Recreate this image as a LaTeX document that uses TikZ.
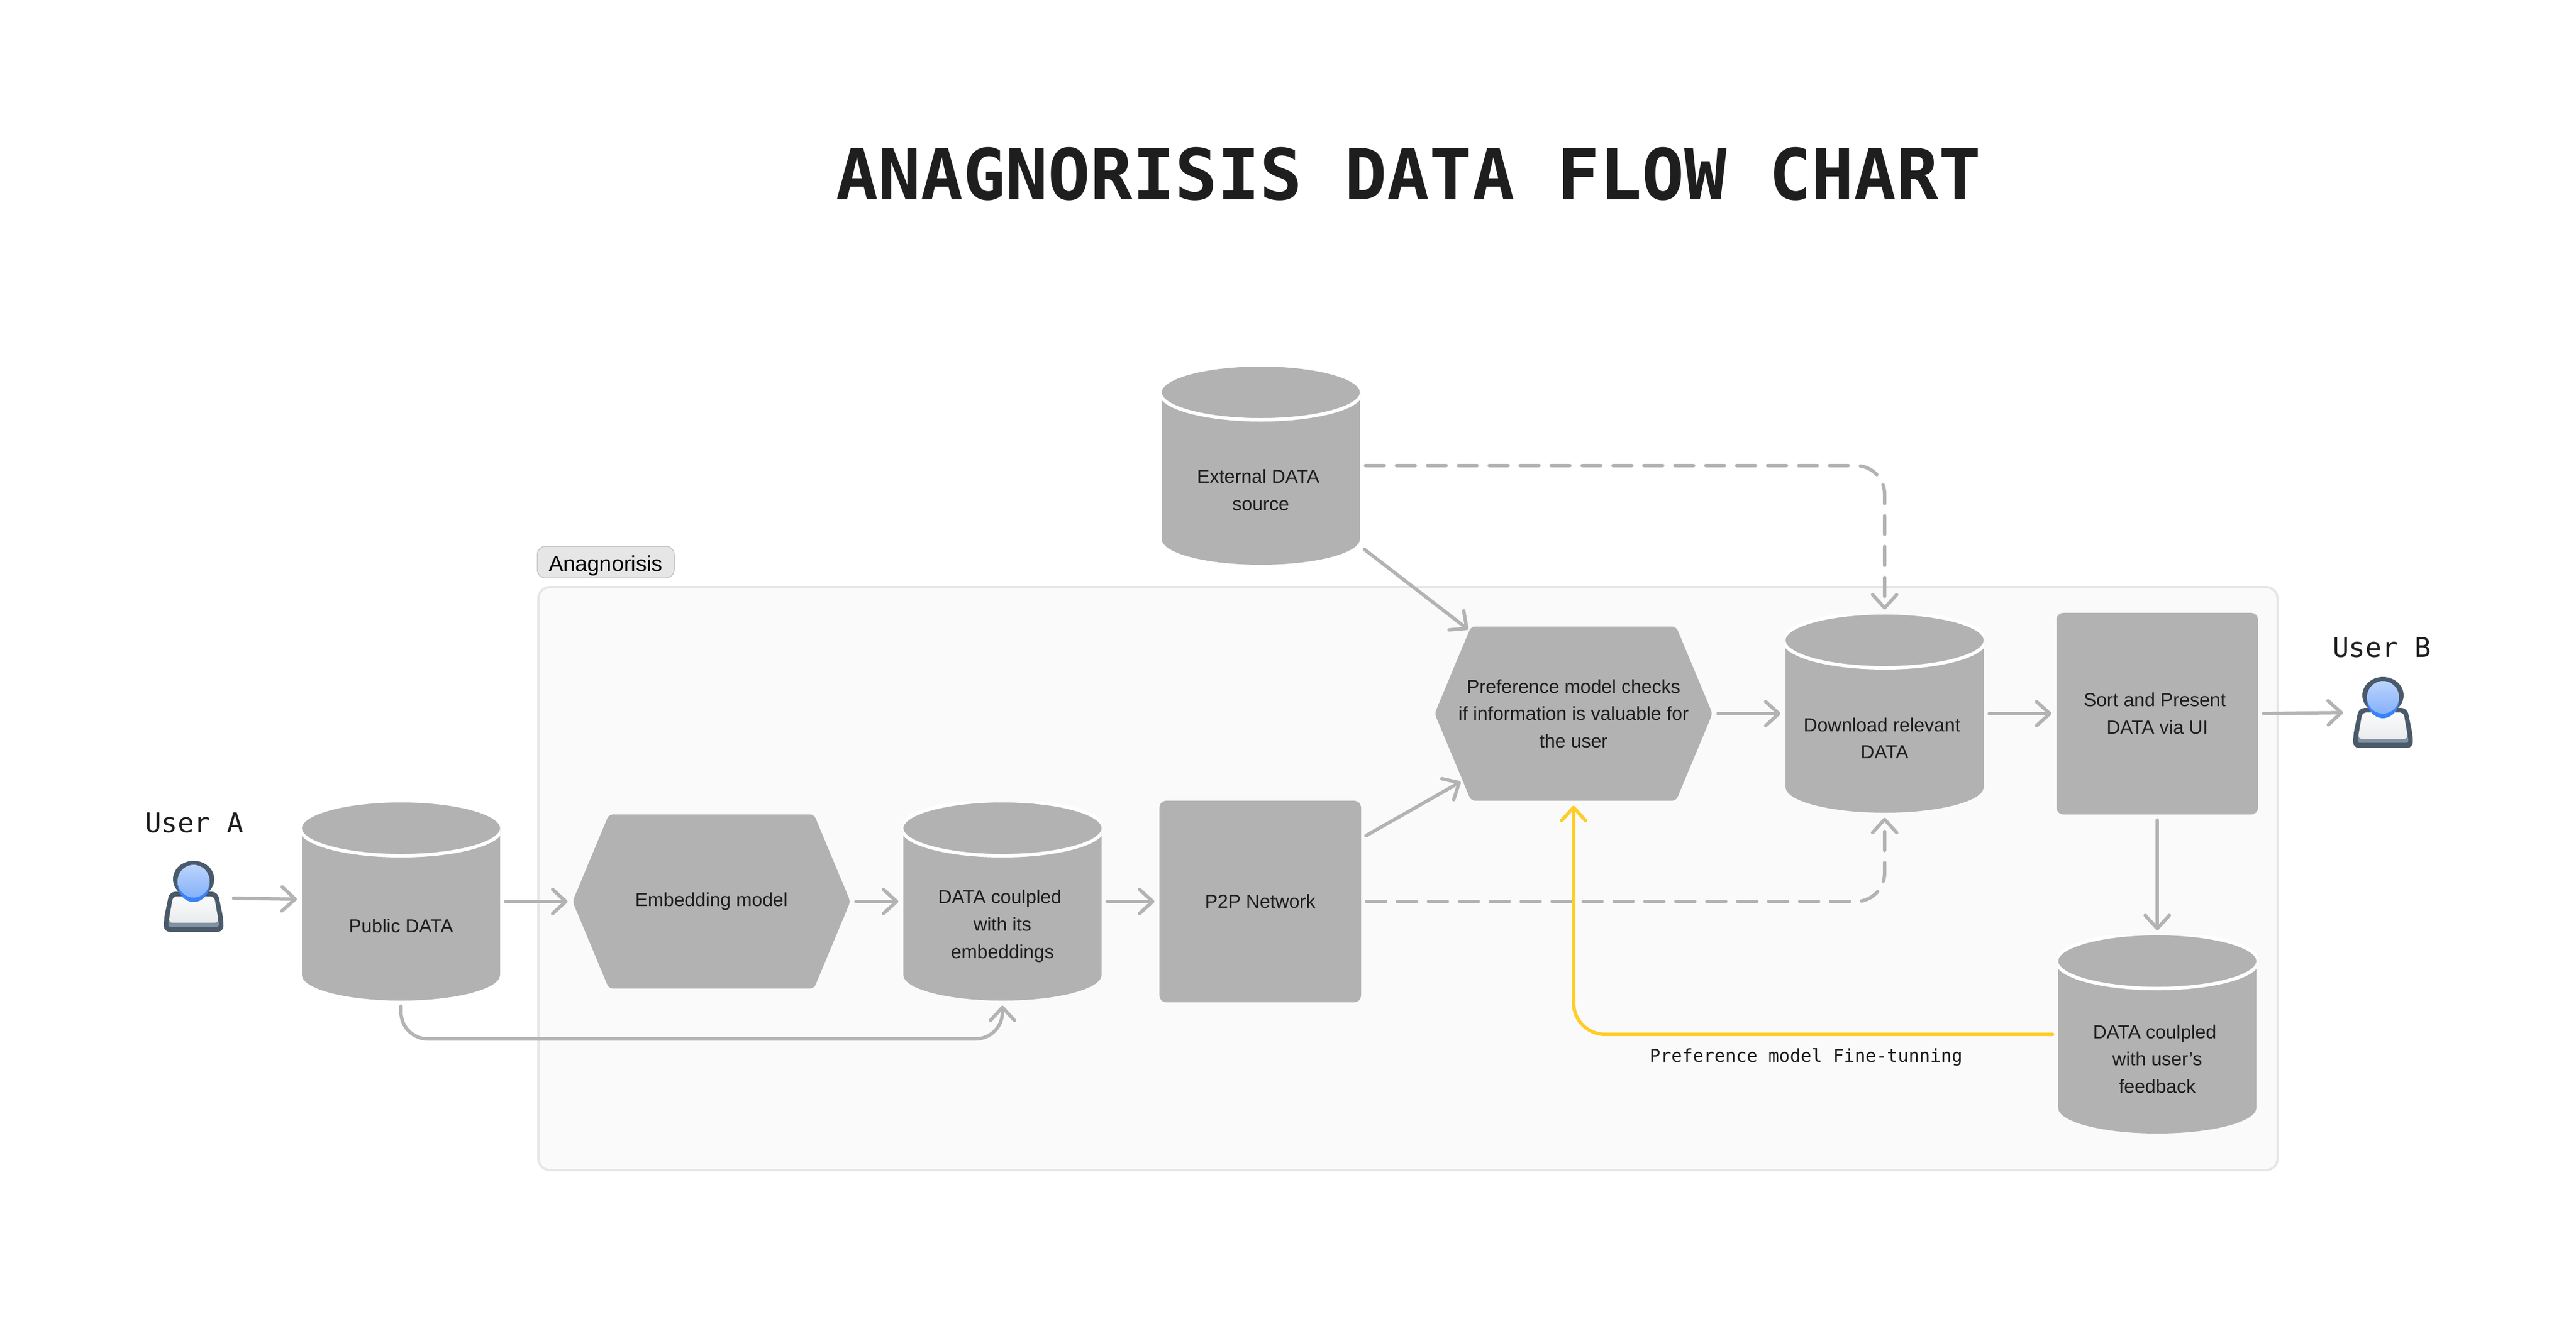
\documentclass[tikz,border=0pt]{standalone}
\usepackage{fontspec}
\setmainfont{Liberation Sans}
\newfontfamily\chartmono{DejaVu Sans Mono}
\usetikzlibrary{arrows.meta}
\definecolor{boxgray}{HTML}{B2B2B2}
\definecolor{linegray}{HTML}{B3B3B3}
\definecolor{inkdark}{HTML}{1E1E1E}
\definecolor{framefill}{HTML}{FAFAFA}
\definecolor{frameline}{HTML}{E6E6E6}
\definecolor{tagline}{HTML}{C4C4C4}
\definecolor{tuneyellow}{HTML}{FFCD29}
\definecolor{iconslate}{HTML}{4B5A6A}
\definecolor{iconstrip}{HTML}{8092A3}
\definecolor{iconblue}{HTML}{3B82F6}
\tikzset{
  boxtext/.style={text=inkdark, align=center, inner sep=0pt, font=\fontsize{9.4}{13.6}\selectfont},
  storebox/.style={inner sep=0pt, minimum width=3.46cm, minimum height=3.46cm},
  hexbox/.style={boxtext, minimum width=4.85cm, minimum height=3.04cm},
  squarebox/.style={boxtext, fill=boxgray, rounded corners=.12cm, minimum width=3.52cm, minimum height=3.52cm},
  iconbox/.style={inner sep=0pt, minimum width=1.04cm, minimum height=1.24cm},
  flow/.style={draw=linegray, line width=.06cm, line cap=round, shorten <=.09cm, shorten >=.08cm,
    -{Straight Barb[length=.23cm,width=.42cm,round]}},
  dashflow/.style={flow, dash pattern=on .33cm off .21cm, rounded corners=.5cm},
  tuneflow/.style={flow, draw=tuneyellow, rounded corners=.55cm},
  userlabel/.style={text=inkdark, font=\chartmono\fontsize{13.5}{16}\selectfont}
}
% wrapped lines keep their trailing space
\newcommand{\wsp}{\hspace*{.09cm}}
% name, position, text
\newcommand{\datastore}[3]{
  \begin{scope}[shift={#2}]
  \clip (-1.73,-1.73) rectangle (1.73,1.73);
  \fill[boxgray] (-1.73,1.28) -- (-1.73,-1.28) arc[start angle=180,end angle=360,x radius=1.73,y radius=.45] -- (1.73,1.28) -- cycle;
  \draw[white,line width=.06cm,fill=boxgray] (0,1.28) ellipse[x radius=1.76,y radius=.48];
  \end{scope}
  \node[storebox] (#1) at #2 {};
  \node[boxtext] (#1text) at ([yshift=-.43cm]#1.center) {#3};
}
\newcommand{\hexagonbox}[3]{
  \fill[boxgray,rounded corners=.07cm,shift={#2}] (-2.425,0) -- (-1.79,1.52) -- (1.79,1.52) -- (2.425,0) -- (1.79,-1.52) -- (-1.79,-1.52) -- cycle;
  \node[hexbox] (#1) at #2 {#3};
}
\newcommand{\usericon}[2]{
  \begin{scope}[shift={#2}]
  \fill[iconslate,rounded corners=.1cm] (-.52,-.62) -- (-.52,-.40) -- (-.42,.08) -- (.42,.08) -- (.52,-.40) -- (.52,-.62) -- cycle;
  \fill[iconslate] (0,.30) ellipse[x radius=.36,y radius=.32];
  \fill[iconstrip,rounded corners=.03cm] (-.44,-.53) rectangle (.44,-.42);
  \shade[top color=white!97!gray,bottom color=iconslate!12,rounded corners=.07cm] (-.44,-.46) -- (-.36,.00) -- (.36,.00) -- (.44,-.46) -- cycle;
  \fill[iconblue] (0,.225) ellipse[x radius=.28,y radius=.325];
  \shade[top color=iconblue!35,bottom color=iconblue!62] (0,.265) ellipse[x radius=.28,y radius=.285];
  \end{scope}
  \node[iconbox] (#1) at #2 {};
}
\begin{document}
\begin{tikzpicture}
\useasboundingbox (0,0) rectangle (44.97,-23.02);

\node[text=inkdark, font=\chartmono\bfseries\fontsize{35}{42}\selectfont] (title) at (24.59,-3.04) {ANAGNORISIS DATA FLOW CHART};

% Anagnorisis frame
\draw[fill=framefill, draw=frameline, line width=.04cm, rounded corners=.2cm] (9.40,-10.25) rectangle (39.76,-20.43);
\node[fill=frameline, draw=tagline, line width=.015cm, rounded corners=.14cm, minimum width=2.39cm, minimum height=.55cm, inner sep=0pt, text height=.40cm, text depth=.08cm, font=\fontsize{10.8}{13}\selectfont] (tag) at (10.575,-9.815) {Anagnorisis};

\node[userlabel] (labela) at (3.39,-14.37) {User A};
\usericon{usera}{(3.38,-15.65)}
\datastore{pubdata}{(7.00,-15.74)}{Public DATA}
\hexagonbox{embed}{(12.42,-15.74)}{Embedding model}
\datastore{coupled}{(17.50,-15.74)}{DATA coulpled\wsp\\with its\wsp\\embeddings}
\node[squarebox] (ptop) at (22.00,-15.74) {P2P Network};
\datastore{external}{(22.01,-8.13)}{External DATA\wsp\\source}
\hexagonbox{pref}{(27.47,-12.46)}{Preference model checks\\if information is valuable for\\the user}
\datastore{download}{(32.90,-12.46)}{Download relevant\wsp\\DATA}
\node[squarebox] (sort) at (37.66,-12.46) {Sort and Present\wsp\\DATA via UI};
\datastore{feedback}{(37.66,-18.06)}{DATA coulpled\wsp\\with user's\wsp\\feedback}
\node[userlabel] (labelb) at (41.58,-11.31) {User B};
\usericon{userb}{(41.60,-12.44)}
\node[text=inkdark, font=\chartmono\fontsize{8.9}{11}\selectfont] (tunelabel) at (31.53,-18.46) {Preference model Fine-tunning};

\coordinate (dip) at (7.00,-18.14);
\coordinate (extin) at (25.63,-10.99);
\coordinate (ptopin) at (25.50,-13.65);

\draw[flow,shorten <=.17cm] ([yshift=-.03cm]usera.east) -- ([yshift=.04cm]pubdata.west);
\draw[flow] (pubdata.east) -- (embed.west);
\draw[flow] (embed.east) -- (coupled.west);
\draw[flow] (coupled.east) -- (ptop.west);
\draw[flow,rounded corners=.47cm] (pubdata.south) -- (dip) -- (dip -| coupled.south) -- (coupled.south);
\draw[flow,shorten >=0cm] (external.-39) -- (extin);
\draw[flow,shorten >=0cm] (ptop.32) -- (ptopin);
\draw[flow] (pref.east) -- (download.west);
\draw[flow] (download.east) -- (sort.west);
\draw[flow,shorten >=.17cm] (sort.east) -- (userb.west);
\draw[flow] (sort.south) -- (feedback.north);
\draw[dashflow] (external.east) -- (external.east -| download.north) -- (download.north);
\draw[dashflow] (ptop.east) -- (ptop.east -| download.south) -- (download.south);
\draw[tuneflow] (feedback.west) -- (feedback.west -| pref.south) -- (pref.south);
\end{tikzpicture}
\end{document}
